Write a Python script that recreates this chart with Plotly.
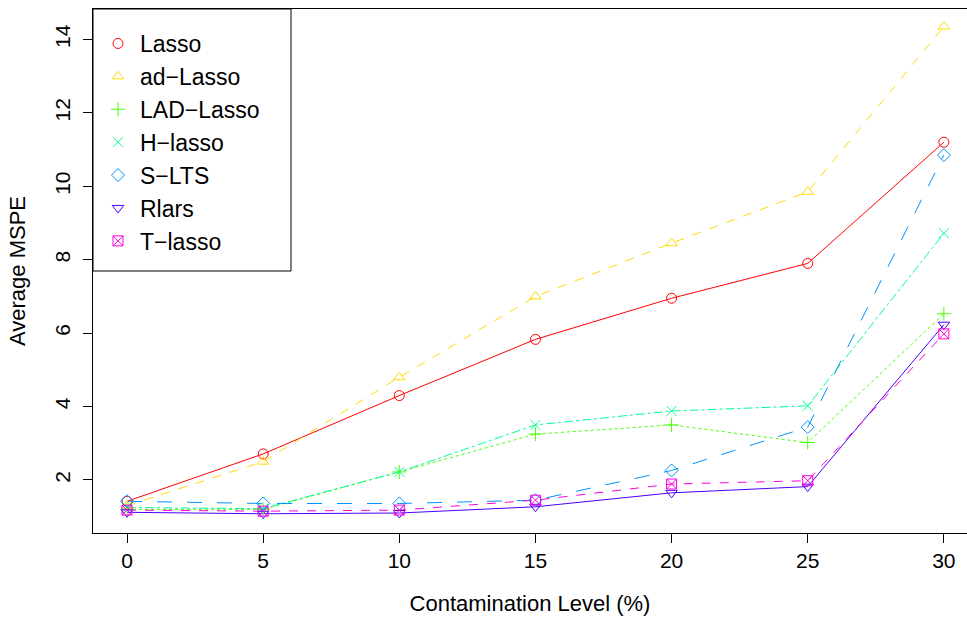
import plotly.graph_objects as go

contamination = [0, 5, 10, 15, 20, 25, 30]
methods = ["Lasso", "ad\u2212Lasso", "LAD\u2212Lasso", "H\u2212lasso", "S\u2212LTS", "Rlars", "T\u2212lasso"]
lasso = [1.42, 2.71, 4.30, 5.83, 6.95, 7.90, 11.20]
ad_lasso = [1.30, 2.50, 4.80, 7.00, 8.45, 9.85, 14.35]
lad_lasso = [1.20, 1.20, 2.22, 3.25, 3.50, 3.02, 6.53]
h_lasso = [1.25, 1.22, 2.22, 3.50, 3.88, 4.02, 8.72]
s_lts = [1.42, 1.36, 1.36, 1.45, 2.26, 3.44, 10.85]
rlars = [1.12, 1.08, 1.10, 1.27, 1.65, 1.82, 6.23]
t_lasso = [1.18, 1.15, 1.18, 1.45, 1.89, 1.98, 5.98]

series = [lasso, ad_lasso, lad_lasso, h_lasso, s_lts, rlars, t_lasso]
colors = ["#FF0000", "#FFDB00", "#49FF00", "#00FF92", "#0092FF", "#4900FF", "#FF00DB"]
symbols = ["circle-open", "triangle-up-open", "cross-thin-open", "x-thin-open",
           "diamond-open", "triangle-down-open", "square-x-open"]
dashes = ["solid", "dash", "dot", "dashdot", "longdash", "solid", "dash"]

fig = go.Figure()
for name, vals, c, s, d in zip(methods, series, colors, symbols, dashes):
    fig.add_trace(go.Scatter(x=contamination, y=vals, mode="lines",
                             line=dict(color=c, width=1, dash=d),
                             showlegend=False, hoverinfo="skip"))
for name, vals, c, s, d in zip(methods, series, colors, symbols, dashes):
    fig.add_trace(go.Scatter(x=contamination, y=vals, mode="markers", name=name,
                             legendgroup=name,
                             marker=dict(symbol=s, size=10, color=c,
                                         line=dict(color=c, width=1))))

axis_common = dict(showline=True, linecolor="black", linewidth=1, ticks="outside",
                   ticklen=9, tickcolor="black", showgrid=False, zeroline=False,
                   tickfont=dict(size=21, color="black"))
fig.update_xaxes(range=[-1.25, 30.85], tickvals=[0, 5, 10, 15, 20, 25, 30],
                 mirror=True, title=dict(text="Contamination Level (%)",
                                         font=dict(size=22, color="black"), standoff=24),
                 **axis_common)
fig.update_yaxes(range=[0.556, 14.83], tickvals=[2, 4, 6, 8, 10, 12, 14], tickangle=-90,
                 mirror=False, ticklabelstandoff=5,
                 title=dict(text="Average MSPE",
                            font=dict(size=22, color="black"), standoff=18),
                 **axis_common)

# legend frame (R-style box)
W, H = 967 - 93, 619 - 9 - 86
fig.add_shape(type="rect", xref="paper", yref="paper",
              x0=0, x1=(291 - 93) / W, y0=1 - (271 - 9) / H, y1=1,
              line=dict(color="black", width=1), fillcolor="white", layer="above")

fig.update_layout(
    width=967, height=619,
    margin=dict(l=93, r=0, t=9, b=86),
    plot_bgcolor="white", paper_bgcolor="white",
    font=dict(family="Liberation Sans, Arial, sans-serif", color="black"),
    legend=dict(x=(96 - 93) / W, y=1 - (22 - 9) / H, xanchor="left", yanchor="top",
                borderwidth=0, bgcolor="rgba(0,0,0,0)",
                font=dict(size=23, color="black"), tracegroupgap=0,
                itemwidth=34),
)
fig.write_html("out.html")
